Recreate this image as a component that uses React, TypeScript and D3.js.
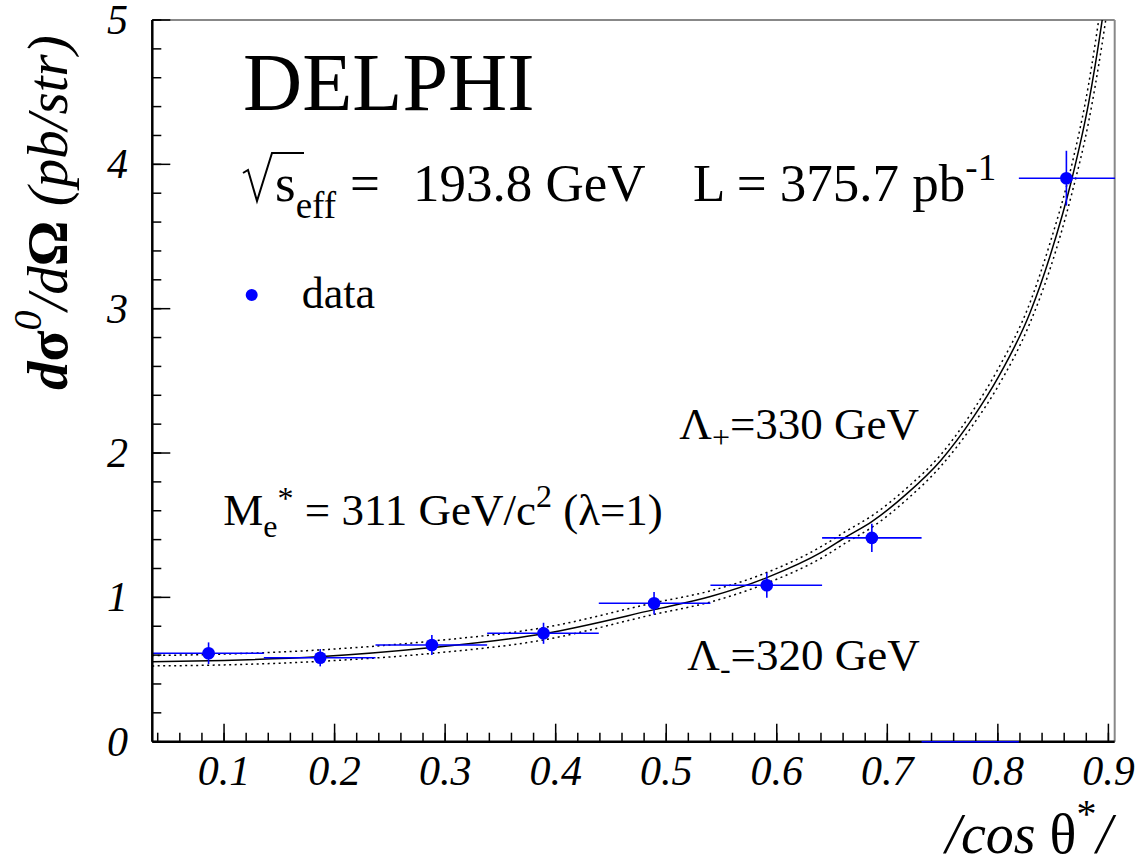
import React from 'react';
import * as d3 from 'd3';

// bins in |cos theta*|
const binLo = [0.035, 0.136, 0.237, 0.338, 0.439, 0.540, 0.641, 0.731, 0.819];
const binHi = [0.136, 0.237, 0.338, 0.439, 0.540, 0.641, 0.731, 0.819, 0.906];
const xData = [0.086, 0.187, 0.288, 0.389, 0.489, 0.591, 0.686, 0.775, 0.862];
const yData = [0.613, 0.582, 0.670, 0.751, 0.959, 1.084, 1.412, 0, 3.904];
const yErr = [0.075, 0.06, 0.07, 0.073, 0.078, 0.087, 0.098, 0, 0.19];

// fitted curve (solid) and the two Lambda curves (dotted)
const curveX = [0.035, 0.10, 0.185, 0.288, 0.389, 0.489, 0.54, 0.591, 0.641, 0.663, 0.686, 0.718, 0.748, 0.778, 0.80, 0.829, 0.847, 0.867, 0.882, 0.894, 0.905];
const curveMid = [0.554, 0.563, 0.588, 0.652, 0.748, 0.915, 1.006, 1.137, 1.315, 1.42, 1.525, 1.72, 1.945, 2.25, 2.52, 2.97, 3.36, 3.90, 4.42, 4.98, 5.6];
const curveUp = [0.597, 0.607, 0.635, 0.697, 0.79, 0.962, 1.045, 1.172, 1.355, 1.46, 1.565, 1.76, 1.985, 2.30, 2.58, 3.04, 3.45, 4.0, 4.55, 5.15, 5.8];
const curveDown = [0.525, 0.532, 0.556, 0.612, 0.705, 0.882, 0.968, 1.098, 1.275, 1.38, 1.485, 1.68, 1.905, 2.20, 2.46, 2.90, 3.27, 3.80, 4.29, 4.82, 5.4];

const xTicks = [0.1, 0.2, 0.3, 0.4, 0.5, 0.6, 0.7, 0.8, 0.9];
const yTicks = [0, 1, 2, 3, 4, 5];

const W = 1143;
const H = 867;
const font = '"Liberation Serif", "Times New Roman", serif';
const blue = '#0000ff';

export default function App() {
  const x = d3.scaleLinear().domain([0.0351, 0.9057]).range([152.3, 1114.7]);
  const y = d3.scaleLinear().domain([0, 5]).range([741.7, 20]);
  const [x0, x1] = x.range();
  const [y0, y1] = y.range();

  const xMinor = d3.range(0.04, 0.905, 0.02).filter((v) => v > x.domain()[0]);
  const yMinor = d3.range(0, 5.001, 0.2);

  const line = (vals: number[]) =>
    d3
      .line<number>()
      .x((_, i) => x(curveX[i]))
      .y((d) => y(d))
      .curve(d3.curveMonotoneX)(vals) as string;

  return (
    <svg width={W} height={H} style={{ position: 'absolute', left: 0, top: 0, background: '#fff' }} fontFamily={font}>
      <defs>
        <clipPath id="frame">
          <rect x={x0} y={y1} width={x1 - x0} height={y0 - y1} />
        </clipPath>
      </defs>

      {/* frame */}
      <line x1={x0} x2={x1} y1={y1} y2={y1} stroke="#888" strokeWidth={2} />
      <line x1={x1} x2={x1} y1={y1} y2={y0} stroke="#888" strokeWidth={2} />

      {/* curves */}
      <g clipPath="url(#frame)" fill="none">
        <path d={line(curveMid)} stroke="#000" strokeWidth={1.5} />
        <path d={line(curveUp)} stroke="#000" strokeWidth={1.5} strokeDasharray="2,3.5" />
        <path d={line(curveDown)} stroke="#000" strokeWidth={1.5} strokeDasharray="2,3.5" />
      </g>

      {/* data */}
      <g>
        {xData.map((xv, i) => (
          <g key={i}>
            <line x1={x(binLo[i])} x2={x(binHi[i])} y1={y(yData[i])} y2={y(yData[i])} stroke={blue} strokeWidth={1.6} />
            {yData[i] > 0 && (
              <>
                <line x1={x(xv)} x2={x(xv)} y1={y(yData[i] - yErr[i])} y2={y(yData[i] + yErr[i])} stroke={blue} strokeWidth={1.6} />
                <circle cx={x(xv)} cy={y(yData[i])} r={6.3} fill={blue} />
              </>
            )}
          </g>
        ))}
      </g>

      {/* axes */}
      <g stroke="#000" strokeWidth={1.5}>
        {xTicks.map((t) => (
          <line key={'xm' + t} x1={x(t)} x2={x(t)} y1={y0} y2={y0 - 18} />
        ))}
        {xMinor.map((t) => (
          <line key={'xn' + t} x1={x(t)} x2={x(t)} y1={y0} y2={y0 - 9} />
        ))}
        {yTicks.map((t) => (
          <line key={'ym' + t} x1={x0} x2={x0 + 18} y1={y(t)} y2={y(t)} />
        ))}
        {yMinor.map((t) => (
          <line key={'yn' + t} x1={x0} x2={x0 + 9} y1={y(t)} y2={y(t)} />
        ))}
      </g>
      <line x1={x0} x2={x1} y1={y0} y2={y0} stroke="#000" strokeWidth={2.5} />
      <line x1={x0} x2={x0} y1={y0} y2={y1} stroke="#000" strokeWidth={2.5} />
      <line x1={x(binLo[7])} x2={x(binHi[7])} y1={y0} y2={y0} stroke={blue} strokeWidth={1.6} />

      {/* tick labels */}
      <g fontSize={42} fontStyle="italic" fill="#000">
        {xTicks.map((t) => (
          <text key={'xl' + t} x={x(t)} y={785} textAnchor="middle">
            {d3.format('.1f')(t)}
          </text>
        ))}
        {yTicks.map((t) => (
          <text key={'yl' + t} x={128} y={y(t)} dy="0.33em" textAnchor="end">
            {t}
          </text>
        ))}
      </g>

      {/* axis titles */}
      <text x={1112} y={853} fontSize={56} textAnchor="end">
        <tspan fontStyle="italic">/cos </tspan>
        <tspan>θ</tspan>
        <tspan fontSize={40} dy={-26}>*</tspan>
        <tspan fontStyle="italic" dy={26}>/</tspan>
      </text>
      <text transform="translate(67,390) rotate(-90)" fontSize={57}>
        <tspan fontStyle="italic" fontWeight="bold">d</tspan>
        <tspan fontWeight="bold">σ</tspan>
        <tspan fontStyle="italic" fontSize={40} dy={-26}>0</tspan>
        <tspan fontStyle="italic" dy={26}>/d</tspan>
        <tspan fontWeight="bold">Ω</tspan>
        <tspan fontStyle="italic"> (pb/str)</tspan>
      </text>

      {/* annotations */}
      <text x={243} y={110} fontSize={82}>DELPHI</text>

      <path d="M243,173 L248,170 L257,201 L272,153 L304,153" fill="none" stroke="#000" strokeWidth={2} />
      <text y={200.7} fontSize={53}>
        <tspan x={275}>s</tspan>
        <tspan fontSize={37} dy={17}>eff</tspan>
        <tspan x={350} dy={-17}>=</tspan>
        <tspan x={413}>193.8 GeV</tspan>
        <tspan x={693}>L = 375.7 pb</tspan>
        <tspan fontSize={37} dy={-21}>-1</tspan>
      </text>

      <circle cx={251.7} cy={295} r={6} fill={blue} />
      <text x={301.7} y={308} fontSize={44}>data</text>

      <text x={679.3} y={439.3} fontSize={45}>
        Λ<tspan fontSize={32} dy={9}>+</tspan>
        <tspan dy={-9}>=330 GeV</tspan>
      </text>

      <text x={223.3} y={525} fontSize={45}>
        M<tspan fontSize={32} dy={12}>e</tspan>
        <tspan fontSize={32} dy={-28}>*</tspan>
        <tspan dy={16}> = 311 GeV/c</tspan>
        <tspan fontSize={32} dy={-18}>2</tspan>
        <tspan dy={18}> (λ=1)</tspan>
      </text>

      <text x={687.3} y={670} fontSize={45}>
        Λ<tspan fontSize={32} dy={9}>-</tspan>
        <tspan dy={-9}>=320 GeV</tspan>
      </text>
    </svg>
  );
}
